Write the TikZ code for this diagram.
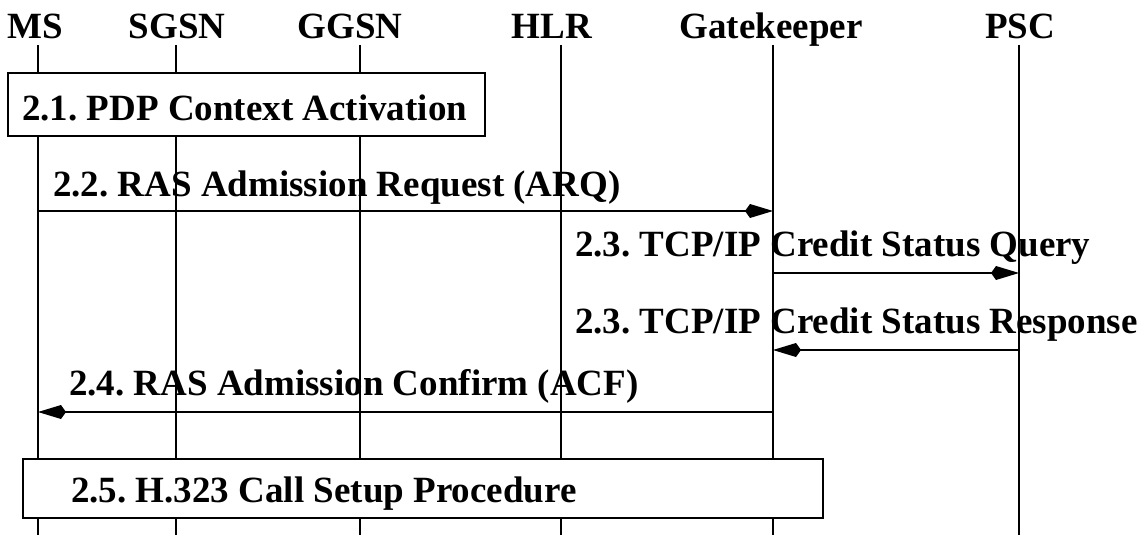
\documentclass[tikz,border=0pt]{standalone}
\usepackage{fontspec}
\setmainfont{Liberation Serif}
\usetikzlibrary{arrows.meta}
\frenchspacing

\tikzset{
  entity/.style={font=\bfseries\fontsize{37}{40}\selectfont, inner sep=0pt, anchor=base},
  msgtext/.style={font=\bfseries\fontsize{37}{40}\selectfont, inner sep=0pt, anchor=base west},
  lifeline/.style={line width=1.8pt},
  msg/.style={line width=1.8pt, -{Kite[length=28pt,width=14pt,inset=5pt]}},
  phase/.style={draw, line width=1.8pt, fill=white, inner sep=0pt, anchor=north west}
}

\begin{document}
\begin{tikzpicture}[x=1pt,y=-1pt]
  \useasboundingbox (0,0) rectangle (1145,535);
  \node[entity] (mshead) at (35,39) {MS};
  \node[entity] (sgsnhead) at (177,39) {SGSN};
  \node[entity] (ggsnhead) at (350,39) {GGSN};
  \node[entity] (hlrhead) at (552,39) {HLR};
  \node[entity] (gkhead) at (771,39) {Gatekeeper};
  \node[entity] (pschead) at (1020,39) {PSC};
  \coordinate (ms) at (38,45);
  \coordinate (sgsn) at (176,45);
  \coordinate (ggsn) at (360,45);
  \coordinate (hlr) at (561,45);
  \coordinate (gk) at (773,45);
  \coordinate (psc) at (1019,45);
  \coordinate (bottom) at (0,535);
  \foreach \e in {ms,sgsn,ggsn,hlr,gk,psc}
    \draw[lifeline] (\e) -- (\e |- bottom);

  \node[phase, minimum width=477pt, minimum height=63pt] (pdp) at (7,72) {};
  \node[msgtext] (pdptext) at (22,120) {2.1. PDP Context Activation};

  \coordinate (arq) at (0,211);
  \coordinate (query) at (0,273);
  \coordinate (resp) at (0,350);
  \coordinate (acf) at (0,412);
  \node[msgtext] (arqtext) at (53,196) {2.2. RAS Admission Request (ARQ)};
  \draw[msg] (ms |- arq) -- (gk |- arq);
  \node[msgtext] (querytext) at (575,256) {2.3. TCP/IP Credit Status Query};
  \draw[msg] (gk |- query) -- (psc |- query);
  \node[msgtext] (resptext) at (575,333) {2.3. TCP/IP Credit Status Response};
  \draw[msg] (psc |- resp) -- (gk |- resp);
  \node[msgtext] (acftext) at (69,395) {2.4. RAS Admission Confirm (ACF)};
  \draw[msg] (gk |- acf) -- (ms |- acf);

  \node[phase, minimum width=800pt, minimum height=59pt] (setup) at (22,458) {};
  \node[msgtext] (setuptext) at (71,502) {2.5. H.323 Call Setup Procedure};
\end{tikzpicture}
\end{document}
